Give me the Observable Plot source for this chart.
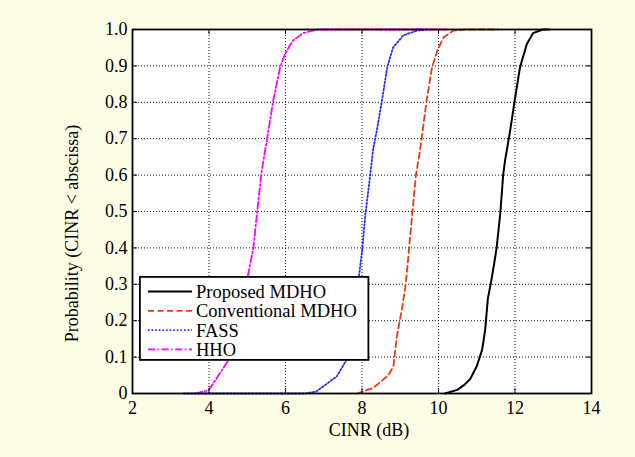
<!DOCTYPE html>
<html><head><meta charset="utf-8">
<script src="https://cdn.jsdelivr.net/npm/d3@7"></script>
<script src="https://cdn.jsdelivr.net/npm/@observablehq/plot@0.6"></script>
<style>
html,body{margin:0;padding:0;background-color:#fdfce4;}
#wrap{position:relative;width:635px;height:457px;overflow:hidden;background-color:#fdfce4;}
#legend{position:absolute;left:139px;top:276px;}
</style></head><body><div id="wrap"></div>
<script>
const seriesNames = ["Proposed MDHO", "Conventional MDHO", "FASS", "HHO"];
const seriesColors = ["#000000", "#e63c16", "#2b2bff", "#ff00ff"];
const seriesDash = [null, "6,3.5", "1.6,2", "7,2.5,1.6,2.5"];

const proposedX = [10.17, 10.49, 10.69, 10.83, 11.0, 11.14, 11.22, 11.29, 11.38, 11.46, 11.52, 11.62, 11.69, 11.74, 11.87, 12.0, 12.13, 12.31, 12.47, 12.73, 12.9];
const proposedY = [0, 0.01, 0.025, 0.04, 0.075, 0.12, 0.175, 0.26, 0.31, 0.36, 0.40, 0.50, 0.60, 0.64, 0.72, 0.81, 0.896, 0.96, 0.99, 1.0, 1.0];

const conventionalX = [7.87, 8.3, 8.69, 8.82, 8.91, 9.04, 9.13, 9.2, 9.23, 9.32, 9.41, 9.49, 9.56, 9.69, 9.83, 9.97, 10.13, 10.39, 10.7, 11.55];
const conventionalY = [0, 0.016, 0.05, 0.074, 0.156, 0.23, 0.29, 0.36, 0.40, 0.50, 0.60, 0.65, 0.70, 0.805, 0.896, 0.942, 0.978, 0.997, 1.0, 1.0];

const fassX = [3.33, 6.5, 6.8, 7.34, 7.6, 7.93, 8.01, 8.08, 8.19, 8.29, 8.4, 8.53, 8.66, 8.81, 9.08, 9.44, 9.7];
const fassY = [0, 0, 0.005, 0.047, 0.093, 0.33, 0.40, 0.485, 0.578, 0.67, 0.73, 0.81, 0.896, 0.95, 0.984, 0.997, 1.0];

const hhoX = [3.65, 4.0, 4.56, 5.03, 5.16, 5.26, 5.37, 5.47, 5.52, 5.68, 5.86, 5.99, 6.2, 6.46, 6.83, 10.2];
const hhoY = [0, 0.01, 0.10, 0.33, 0.40, 0.50, 0.605, 0.67, 0.70, 0.805, 0.896, 0.934, 0.97, 0.99, 1.0, 1.0];

const xTicks = [2, 4, 6, 8, 10, 12, 14];
const yTicks = [0, 0.1, 0.2, 0.3, 0.4, 0.5, 0.6, 0.7, 0.8, 0.9, 1.0];
const xLabel = "CINR (dB)";
const yLabel = "Probability (CINR < abscissa)";

const allX = [proposedX, conventionalX, fassX, hhoX];
const allY = [proposedY, conventionalY, fassY, hhoY];
const rows = [];
seriesNames.forEach((s, i) => allX[i].forEach((x, j) => rows.push({series: s, x, y: allY[i][j]})));

const font = "'Liberation Serif', 'Times New Roman', serif";
const lineMarks = seriesNames.map((s, i) => Plot.line(rows.filter(r => r.series === s), {
  x: "x", y: "y", stroke: seriesColors[i], strokeWidth: i === 0 ? 2 : 1.8,
  strokeDasharray: seriesDash[i] || undefined
}));

const tx = 0.13, ty = 0.0137;
const chart = Plot.plot({
  width: 635, height: 457,
  marginLeft: 132, marginRight: 44, marginTop: 29, marginBottom: 64,
  style: {fontFamily: font, fontSize: "18px", backgroundColor: "#fdfce4", color: "black"},
  x: {domain: [2, 14]},
  y: {domain: [0, 1]},
  marks: [
    Plot.frame({fill: "white"}),
    Plot.gridX(xTicks, {stroke: "#111", strokeOpacity: 1, strokeWidth: 1, strokeDasharray: "1,2"}),
    Plot.gridY(yTicks, {stroke: "#111", strokeOpacity: 1, strokeWidth: 1, strokeDasharray: "1,2"}),
    ...lineMarks,
    Plot.ruleX(xTicks, {y1: 0, y2: ty, stroke: "black"}),
    Plot.ruleX(xTicks, {y1: 1 - ty, y2: 1, stroke: "black"}),
    Plot.ruleY(yTicks, {x1: 2, x2: 2 + tx, stroke: "black"}),
    Plot.ruleY(yTicks, {x1: 14 - tx, x2: 14, stroke: "black"}),
    Plot.axisX(xTicks, {tickSize: 0, tickPadding: 8, label: null, tickFormat: d => String(d), fill: "black"}),
    Plot.axisY(yTicks, {tickSize: 0, tickPadding: 5, label: null, tickFormat: d => d === 0 ? "0" : d.toFixed(1), fill: "black"}),
    Plot.frame({stroke: "black", strokeWidth: 1.8}),
    Plot.text([xLabel], {text: d => d, frameAnchor: "bottom", dy: 42, dx: 7, fill: "black"}),
    Plot.text([yLabel], {text: d => d, frameAnchor: "left", textAnchor: "middle", dx: -60, dy: 22, rotate: -90, fill: "black"})
  ]
});
const wrap = document.getElementById("wrap");
wrap.appendChild(chart);

// legend
const lg = d3.select(wrap).append("svg").attr("id", "legend")
  .attr("width", 231).attr("height", 86);
lg.append("rect").attr("x", 0.9).attr("y", 0.9).attr("width", 228.5).attr("height", 83)
  .attr("fill", "white").attr("stroke", "black").attr("stroke-width", 1.8);
seriesNames.forEach((s, i) => {
  const cy = 15.5 + i * 19.3;
  lg.append("line").attr("x1", 9).attr("x2", 53).attr("y1", cy).attr("y2", cy)
    .attr("stroke", seriesColors[i]).attr("stroke-width", i === 0 ? 2 : 1.8)
    .attr("stroke-dasharray", seriesDash[i]);
  lg.append("text").attr("x", 57).attr("y", cy).attr("dy", "0.35em")
    .attr("font-family", font).attr("font-size", 18.5).attr("fill", "black").text(s);
});
</script></body></html>
